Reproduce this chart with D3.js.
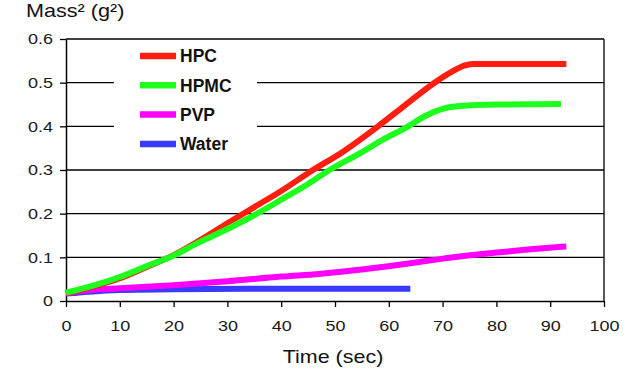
<!DOCTYPE html>
<html>
<head>
<meta charset="utf-8">
<script src="https://cdn.jsdelivr.net/npm/d3@7"></script>
<style>
  html, body { margin: 0; padding: 0; background: #fff; }
  svg { display: block; font-family: "Liberation Sans", Arial, sans-serif; }
</style>
</head>
<body>
<svg id="chart" width="635" height="373"></svg>
<script>
// ---- data ----
const seriesNames = ["HPC", "HPMC", "PVP", "Water"];
const seriesColors = ["#ff1e10", "#1eff1e", "#ff00ff", "#3a3aff"];

const hpcTime  = [0, 5, 10, 15, 20, 25, 30, 35, 40, 45.4, 51.5, 58, 63, 68.5, 72, 74, 75.5, 93];
const hpcMass2 = [0.018, 0.033, 0.052, 0.078, 0.105, 0.14, 0.178, 0.215, 0.252, 0.296, 0.342, 0.4, 0.448, 0.5, 0.527, 0.539, 0.543, 0.543];

const hpmcTime  = [0, 5, 10, 15.6, 19.3, 25, 30, 35.5, 40, 45, 49, 54.6, 59, 63.6, 66.5, 69, 71, 74, 80, 92];
const hpmcMass2 = [0.019, 0.035, 0.055, 0.083, 0.1, 0.136, 0.165, 0.2, 0.232, 0.268, 0.3, 0.338, 0.37, 0.4, 0.422, 0.436, 0.443, 0.447, 0.45, 0.451];

const pvpTime  = [0, 5, 10, 20, 30, 40, 47, 55, 65, 70, 80, 88, 93];
const pvpMass2 = [0.018, 0.026, 0.029, 0.036, 0.045, 0.056, 0.062, 0.072, 0.088, 0.097, 0.111, 0.12, 0.125];

const waterTime  = [0, 5, 10, 20, 40, 64];
const waterMass2 = [0.017, 0.022, 0.025, 0.027, 0.028, 0.028];

const xTicks = [0, 10, 20, 30, 40, 50, 60, 70, 80, 90, 100];
const yTicks = [0, 0.1, 0.2, 0.3, 0.4, 0.5, 0.6];
const yTitle = "Mass² (g²)";
const xTitle = "Time (sec)";

// ---- layout ----
const svg = d3.select("#chart");
const mLeft = 66, mRight = 604, mTop = 39, mBottom = 301;
const x = d3.scaleLinear().domain([0, 100]).range([mLeft, mRight]);
const y = d3.scaleLinear().domain([0, 0.6]).range([mBottom, mTop]);

// gridlines (0.1 .. 0.6) and right border
svg.append("g").selectAll("line").data(yTicks.filter(d => d > 0)).join("line")
  .attr("x1", mLeft).attr("x2", mRight)
  .attr("y1", d => y(d)).attr("y2", d => y(d))
  .attr("stroke", "#000").attr("stroke-width", 1.3);
svg.append("line").attr("x1", mRight).attr("x2", mRight)
  .attr("y1", y(0.6)).attr("y2", y(0))
  .attr("stroke", "#000").attr("stroke-width", 1.3);

// legend background (breaks the gridlines)
svg.append("rect").attr("x", 114).attr("y", 42).attr("width", 143).attr("height", 118).attr("fill", "#fff");

// axes
const yAxis = svg.append("g").attr("transform", `translate(${mLeft},0)`)
  .call(d3.axisLeft(y).tickValues(yTicks).tickSize(6).tickSizeOuter(0).tickPadding(4.8)
    .tickFormat(d => d === 0 ? "0" : d3.format(".1f")(d)));
const xAxis = svg.append("g").attr("transform", `translate(0,${mBottom})`)
  .call(d3.axisBottom(x).tickValues(xTicks).tickSize(6).tickSizeOuter(0).tickPadding(13.3));
[yAxis, xAxis].forEach(g => {
  g.select(".domain").attr("stroke", "#000").attr("stroke-width", 1.5);
  g.selectAll(".tick line").attr("stroke", "#000").attr("stroke-width", 1.3);
  g.selectAll(".tick text").attr("fill", "#1a1a1a").attr("font-size", 15)
    .attr("font-family", "'Liberation Sans', Arial, sans-serif")
    .attr("transform", "scale(1.2,1)");
});

// series lines
const seriesData = [
  d3.zip(hpcTime, hpcMass2),
  d3.zip(hpmcTime, hpmcMass2),
  d3.zip(pvpTime, pvpMass2),
  d3.zip(waterTime, waterMass2)
];
const line = d3.line().x(d => x(d[0])).y(d => y(d[1])).curve(d3.curveMonotoneX);
// draw back-to-front: water, pvp, hpc, hpmc
[3, 2, 0, 1].forEach(i => {
  svg.append("path").datum(seriesData[i])
    .attr("d", line)
    .attr("fill", "none")
    .attr("stroke", seriesColors[i])
    .attr("stroke-width", 6)
    .attr("stroke-linejoin", "round")
    .attr("stroke-linecap", "butt");
});

// legend
const lg = svg.append("g");
seriesNames.forEach((name, i) => {
  const cy = 56 + i * 29.3;
  lg.append("line").attr("x1", 140).attr("x2", 176).attr("y1", cy).attr("y2", cy)
    .attr("stroke", seriesColors[i]).attr("stroke-width", 6.5);
  lg.append("text").attr("x", 180).attr("y", cy + 6.4)
    .attr("font-size", 17.5).attr("font-weight", "bold").attr("fill", "#111")
    .text(name);
});

// titles
svg.append("text").attr("transform", "translate(26,17) scale(1.2,1)")
  .attr("font-size", 18).attr("fill", "#111").text(yTitle);
svg.append("text").attr("transform", "translate(333,363) scale(1.13,1)")
  .attr("text-anchor", "middle").attr("font-size", 19).attr("fill", "#111").text(xTitle);
</script>
</body>
</html>
